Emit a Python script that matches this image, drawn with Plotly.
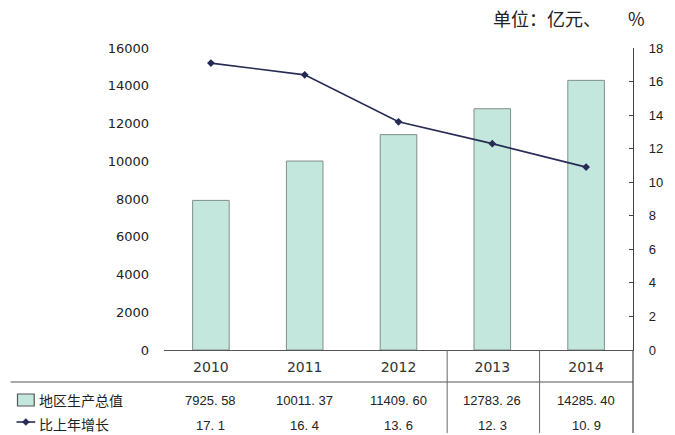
import plotly.graph_objects as go

years = [2010, 2011, 2012, 2013, 2014]
year_labels = ["2010", "2011", "2012", "2013", "2014"]
gdp = [7925.58, 10011.37, 11409.60, 12783.26, 14285.40]
growth = [17.1, 16.4, 13.6, 12.3, 10.9]
left_ticks = [0, 2000, 4000, 6000, 8000, 10000, 12000, 14000, 16000]
right_ticks = [0, 2, 4, 6, 8, 10, 12, 14, 16, 18]
series_names = ["地区生产总值", "比上年增长"]
unit_label = "单位：亿元、\u3000\u3000%"

BAR_FILL = "#c3e7dc"
BAR_LINE = "#7f8f8b"
LINE_COL = "#262b55"
NUM_FONT = "Liberation Sans, Arial, sans-serif"
WIDE_FONT = "DejaVu Sans, sans-serif"
CJK_FONT = "Noto Sans CJK SC, sans-serif"
TXT = "#222"

FIG_W, FIG_H = 675, 435
PLOT_L, PLOT_R, PLOT_T, PLOT_B = 164, 641, 48, 350  # page pixels

fig = go.Figure()
fig.add_trace(go.Bar(
    x=years, y=gdp, name=series_names[0], width=0.39,
    marker=dict(color=BAR_FILL, line=dict(color=BAR_LINE, width=1)),
    yaxis="y", showlegend=False,
))
fig.add_trace(go.Scatter(
    x=years, y=growth, name=series_names[1], mode="lines+markers",
    line=dict(color=LINE_COL, width=1.6),
    marker=dict(symbol="diamond", size=6, color=LINE_COL),
    yaxis="y2", showlegend=False,
))

plot_h = float(PLOT_B - PLOT_T)
plot_w = float(PLOT_R - PLOT_L)

def py(pix):
    return (PLOT_B - pix) / plot_h

def x_px(px):
    return (px - PLOT_L) / plot_w

annotations = []
for yr, v, g in zip(years, gdp, growth):
    annotations.append(dict(
        x=yr, xref="x", y=py(400), yref="paper",
        text=f"{v:.2f}".replace(".", ". "), showarrow=False,
        font=dict(family=NUM_FONT, size=13, color=TXT),
        xanchor="center", yanchor="middle"))
    annotations.append(dict(
        x=yr, xref="x", y=py(425), yref="paper",
        text=f"{g:.1f}".replace(".", ". "), showarrow=False,
        font=dict(family=NUM_FONT, size=13, color=TXT),
        xanchor="center", yanchor="middle"))

annotations.append(dict(
    x=x_px(35), xref="paper", y=py(400), yref="paper", text=series_names[0],
    showarrow=False, xanchor="left", yanchor="middle",
    font=dict(family=CJK_FONT, size=14, color=TXT)))
annotations.append(dict(
    x=x_px(35), xref="paper", y=py(424), yref="paper", text=series_names[1],
    showarrow=False, xanchor="left", yanchor="middle",
    font=dict(family=CJK_FONT, size=14, color=TXT)))
annotations.append(dict(
    x=x_px(497), xref="paper", y=py(18), yref="paper", text=unit_label,
    showarrow=False, xanchor="left", yanchor="middle",
    font=dict(family=CJK_FONT, size=18, color=TXT)))

shapes = [
    dict(type="line", xref="paper", yref="paper", x0=x_px(8), x1=x_px(641),
         y0=py(382), y1=py(382), line=dict(color="#555", width=1)),
    dict(type="line", xref="paper", yref="paper", x0=x_px(452), x1=x_px(452),
         y0=py(350), y1=py(433), line=dict(color="#666", width=1)),
    dict(type="line", xref="paper", yref="paper", x0=x_px(546), x1=x_px(546),
         y0=py(350), y1=py(433), line=dict(color="#666", width=1)),
    dict(type="line", xref="paper", yref="paper", x0=x_px(641), x1=x_px(641),
         y0=py(350), y1=py(433), line=dict(color="#444", width=1.2)),
    dict(type="rect", xref="paper", yref="paper", x0=x_px(15), x1=x_px(32),
         y0=py(406), y1=py(394), fillcolor=BAR_FILL,
         line=dict(color="#555", width=1.2)),
    dict(type="line", xref="paper", yref="paper", x0=x_px(14), x1=x_px(33),
         y0=py(422), y1=py(422), line=dict(color=LINE_COL, width=1.6)),
    dict(type="path", xref="paper", yref="paper",
         path=(f"M {x_px(23.5)} {py(418.5)} L {x_px(27)} {py(422)} "
               f"L {x_px(23.5)} {py(425.5)} L {x_px(20)} {py(422)} Z"),
         fillcolor=LINE_COL, line=dict(color=LINE_COL, width=0.5)),
]

fig.update_layout(
    width=FIG_W, height=FIG_H,
    margin=dict(l=PLOT_L, r=FIG_W - PLOT_R, t=PLOT_T, b=FIG_H - PLOT_B, pad=0),
    paper_bgcolor="white", plot_bgcolor="white",
    hovermode=False,
    xaxis=dict(
        type="linear", range=[2009.5, 2014.5],
        tickvals=years, ticktext=year_labels,
        showgrid=False, zeroline=False,
        showline=True, linecolor="#555", linewidth=1.2,
        ticks="", tickfont=dict(family=WIDE_FONT, size=14, color="#333"),
        ticklabelstandoff=4,
    ),
    yaxis=dict(
        range=[0, 16000], tickvals=left_ticks, tickformat="d",
        showgrid=False, zeroline=False,
        showline=False, ticks="",
        tickfont=dict(family=WIDE_FONT, size=13, color=TXT),
        ticklabelstandoff=14,
    ),
    yaxis2=dict(
        range=[0, 18], tickvals=right_ticks, overlaying="y", side="right",
        showgrid=False, zeroline=False, showline=True, linecolor="#444",
        linewidth=1.2, ticks="inside", ticklen=4, tickcolor="#444",
        tickfont=dict(family=NUM_FONT, size=13, color=TXT),
        ticklabelstandoff=12,
    ),
    annotations=annotations,
    shapes=shapes,
    font=dict(family=NUM_FONT),
)

fig.write_html(
    "out.html",
    config={"displayModeBar": False},
    post_script="document.body.style.margin='0px';document.body.style.overflow='hidden';",
)
